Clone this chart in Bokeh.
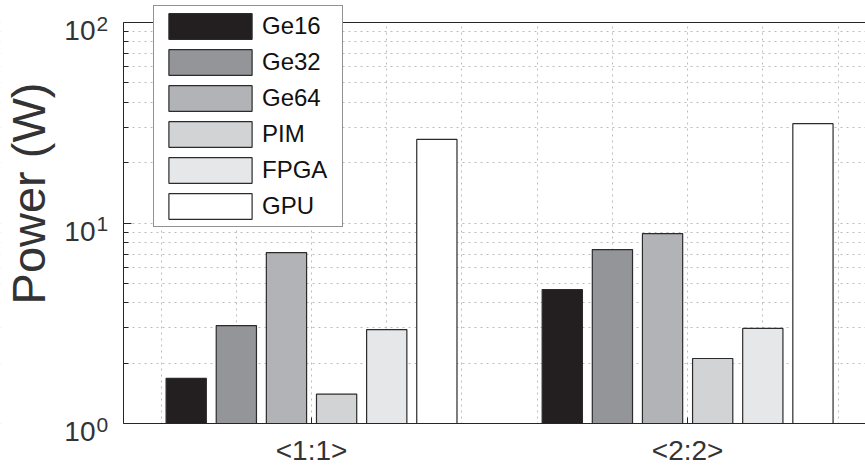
import math
import numpy as np
from bokeh.plotting import figure
from bokeh.models import (Range1d, FixedTicker, Label, Legend, LegendItem,
                          BoxAnnotation, Arrow)
from bokeh.embed import file_html
from bokeh.resources import INLINE

# ---- data ----
groups = ["<1:1>", "<2:2>"]
group_pos = [1, 2]
series = ["Ge16", "Ge32", "Ge64", "PIM", "FPGA", "GPU"]
ge16 = [1.68, 4.66]
ge32 = [3.08, 7.37]
ge64 = [7.12, 8.85]
pim = [1.40, 2.11]
fpga = [2.94, 2.98]
gpu = [26.1, 31.3]
values = [ge16, ge32, ge64, pim, fpga, gpu]
colors = ["#231f20", "#939598", "#b1b3b6", "#d1d3d4", "#e6e7e8", "#ffffff"]
y_ticks = [1, 10, 100]
y_base = "10"
y_exponents = ["0", "1", "2"]
y_label = "Power (W)"

# ---- layout (pixels) ----
W, H = 865, 466
LEFT_PX, TOP_PX, BOTTOM_PX = 123, 22, 423
X_LO, X_HI = 0.5, 2.473           # visible axis range
Y_LO, Y_HI = 1, 100
ppu = (W - LEFT_PX) / (X_HI - X_LO)
ppd = (BOTTOM_PX - TOP_PX) / 2.0   # pixels per decade

x_range = Range1d(X_LO - LEFT_PX / ppu, X_HI)
y_range = Range1d(10 ** (-(H - BOTTOM_PX) / ppd), 10 ** (2 + TOP_PX / ppd))

AX = "#262626"
GRID = "#bcbcbc"
FONT = "Liberation Sans"
TXT = "#333333"

p = figure(width=W, height=H, output_backend="svg", toolbar_location=None,
           y_axis_type="log", x_range=x_range, y_range=y_range,
           min_border=0, background_fill_color="white", border_fill_color="white")
p.outline_line_color = None

# grids
minor_y = [m * d for d in (1, 10) for m in range(2, 10)]
p.ygrid.ticker = FixedTicker(ticks=y_ticks, minor_ticks=minor_y)
p.ygrid.grid_line_color = GRID
p.ygrid.grid_line_dash = "2 4"
p.ygrid.minor_grid_line_color = GRID
p.ygrid.minor_grid_line_dash = "2 4"
p.xgrid.ticker = FixedTicker(ticks=[round(v, 2) for v in np.arange(0.6, 2.45, 0.2)])
p.xgrid.grid_line_color = GRID
p.xgrid.grid_line_dash = "2 4"

# white masks outside the axes box (drawn over the grid only)
for kw in (dict(right=X_LO), dict(bottom=Y_HI), dict(top=Y_LO)):
    p.add_layout(BoxAnnotation(fill_color="white", fill_alpha=1.0, line_color=None,
                               level="underlay", **kw))

# bars
step = 0.1333
bar_w = 0.107
items = []
for k, (name, vals, col) in enumerate(zip(series, values, colors)):
    off = (k - 2.5) * step
    r = p.vbar(x=[g + off for g in group_pos], top=vals, bottom=Y_LO, width=bar_w,
               fill_color=col, line_color="#2b2b2b", line_width=1.2)
    items.append(LegendItem(label=name, renderers=[r]))

# axes drawn inside the frame
p.yaxis.fixed_location = X_LO
p.yaxis.bounds = (Y_LO, Y_HI)
p.yaxis.ticker = FixedTicker(ticks=y_ticks, minor_ticks=minor_y)
p.yaxis.major_label_text_color = None
p.yaxis.major_tick_in = 8
p.yaxis.major_tick_out = 0
p.yaxis.minor_tick_in = 5
p.yaxis.minor_tick_out = 0
p.yaxis.axis_line_color = AX
p.yaxis.major_tick_line_color = AX
p.yaxis.minor_tick_line_color = AX

p.xaxis.fixed_location = Y_LO
p.xaxis.bounds = (X_LO, X_HI)
p.xaxis.ticker = FixedTicker(ticks=group_pos)
p.xaxis.major_label_overrides = dict(zip(group_pos, groups))
p.xaxis.major_tick_in = 6
p.xaxis.major_tick_out = 0
p.xaxis.major_label_standoff = 11
p.xaxis.major_label_text_font = FONT
p.xaxis.major_label_text_font_size = "28px"
p.xaxis.major_label_text_color = TXT
p.xaxis.axis_line_color = AX
p.xaxis.major_tick_line_color = AX

# top line of the axes box
p.add_layout(Arrow(x_start=X_LO, y_start=Y_HI, x_end=X_HI + 0.1, y_end=Y_HI, end=None,
                   line_color=AX, line_width=1))

# y tick labels: 10 with exponent
for t, e in zip(y_ticks, y_exponents):
    p.add_layout(Label(x=X_LO, y=t, x_offset=-28, y_offset=-8, text=y_base,
                       text_align="right", text_baseline="middle",
                       text_font=FONT, text_font_size="28px", text_color=TXT))
    p.add_layout(Label(x=X_LO, y=t, x_offset=-27, y_offset=-1, text=e,
                       text_align="left", text_baseline="alphabetic",
                       text_font=FONT, text_font_size="21px", text_color=TXT))

# y axis label
p.add_layout(Label(x=28, y=H - 193, x_units="screen", y_units="screen", text=y_label,
                   angle=math.pi / 2, text_align="center", text_baseline="middle",
                   text_font=FONT, text_font_size="47px", text_color=TXT))

legend = Legend(items=items, location=(153, H - 227), glyph_width=104, glyph_height=32,
                label_width=76, label_height=32, label_standoff=0, spacing=4,
                padding=4, margin=0, border_line_color=AX, border_line_width=1,
                background_fill_color="white", background_fill_alpha=1.0,
                label_text_font=FONT, label_text_font_size="24px",
                label_text_color="#111111")
p.add_layout(legend)

open("out.html", "w").write(file_html(p, INLINE))
